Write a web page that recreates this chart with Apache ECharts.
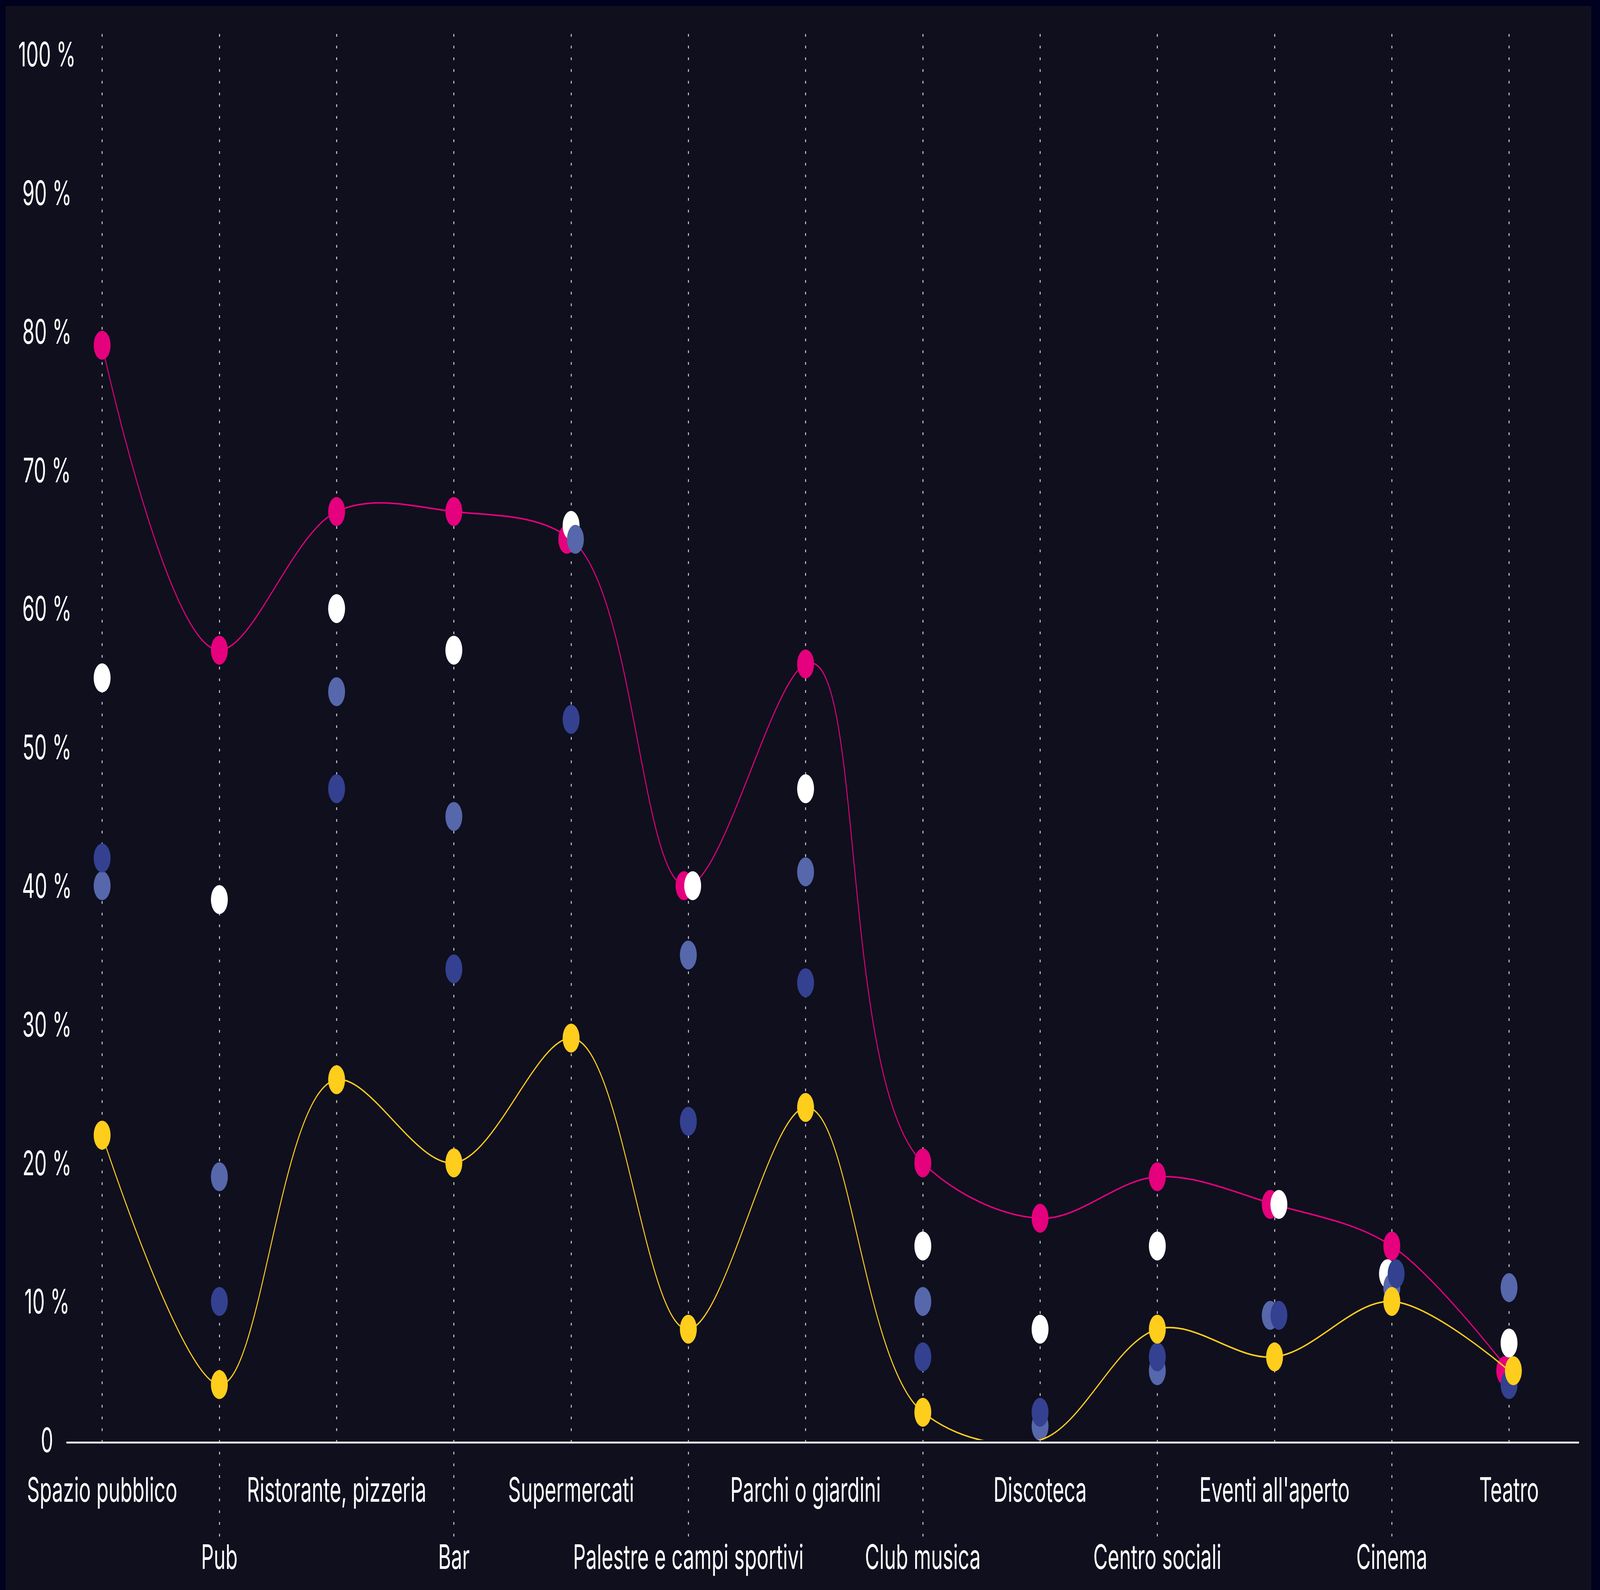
<!DOCTYPE html>
<html>
<head>
<meta charset="utf-8">
<script src="https://cdn.jsdelivr.net/npm/echarts@6/dist/echarts.min.js"></script>
<style>
html,body{margin:0;padding:0;background:#00001f;width:100%;height:100%;overflow:hidden}
#stage{position:absolute;left:0;top:0;width:7019px;height:4071px;transform-origin:0 0}
#panel{position:absolute;left:25px;top:15px;width:6956px;height:4056px;background:#0f0f1e}
#chart{position:absolute;left:0;top:0;width:7019px;height:4071px}
</style>
</head>
<body>
<div id="stage"><div id="panel"></div><div id="chart"></div></div>
<script>
// ---- data ----
const categories = ['Spazio pubblico', 'Pub', 'Ristorante, pizzeria', 'Bar', 'Supermercati',
  'Palestre e campi sportivi', 'Parchi o giardini', 'Club musica', 'Discoteca', 'Centro sociali',
  "Eventi all'aperto", 'Cinema', 'Teatro'];
const yTicks = [0, 10, 20, 30, 40, 50, 60, 70, 80, 90, 100];
const pinkValues      = [79, 57, 67, 67, 65, 40, 56, 20, 16, 19, 17, 14, 5];
const whiteValues     = [55, 39, 60, 57, 66, 40, 47, 14, 8, 14, 17, 12, 7];
const lightBlueValues = [40, 19, 54, 45, 65, 35, 41, 10, 1, 5, 9, 11, 11];
const darkBlueValues  = [42, 10, 47, 34, 52, 23, 33, 6, 2, 6, 9, 12, 4];
const yellowValues    = [22, 4, 26, 20, 29, 8, 24, 2, 0, 8, 6, 10, 5];

// fit the 7019x4071 design into the actual window
const DESIGN_W = 7019, DESIGN_H = 4071;
document.getElementById('stage').style.transform =
  'scale(' + (window.innerWidth / DESIGN_W) + ',' + (window.innerHeight / DESIGN_H) + ')';

// ---- styles ----
const FONT = 'Inter';
const COLORS = ['#e5007d', '#ffffff', '#5667ab', '#334190', '#ffcd1c'];
const DOT = 74;
const STEP = 38;
const ALPHA = 1; // catmull-rom parameterisation
const allSeries = [pinkValues, whiteValues, lightBlueValues, darkBlueValues, yellowValues];

// horizontal nudge for dots sharing exactly the same value in one category
const offsets = allSeries.map(() => categories.map(() => 0));
categories.forEach((c, i) => {
  const groups = {};
  allSeries.forEach((s, k) => { (groups[s[i]] = groups[s[i]] || []).push(k); });
  Object.values(groups).forEach(g => {
    if (g.length > 1) g.forEach((k, j) => { offsets[k][i] = (j - (g.length - 1) / 2) * STEP; });
  });
});
const toData = (arr, k) => arr.map((v, i) => ({ value: v, symbolOffset: [offsets[k][i], 0] }));
const sizeFn = v => (v === 0 ? 0 : DOT);

// catmull-rom curve through the values, positioned by the axis scales
function curveSeries(values, color, z) {
  return {
    type: 'custom', xAxisIndex: 0, yAxisIndex: 0, z: z, clip: true, silent: true,
    data: values.map((v, i) => [i, v]),
    renderItem: function (params, api) {
      const i = params.dataIndex, n = values.length;
      if (i >= n - 1) return null;
      const P = k => (k < 0 || k > n - 1 ? null : api.coord([k, values[k]]));
      const p0 = P(i - 1), p1 = P(i), p2 = P(i + 1), p3 = P(i + 2);
      const d = (a, b) => Math.hypot(a[0] - b[0], a[1] - b[1]);
      const l12 = d(p1, p2), l12a = Math.pow(l12, ALPHA), l12_2a = Math.pow(l12, 2 * ALPHA);
      let c1 = p1.slice(), c2 = p2.slice();
      if (p0) {
        const l01 = d(p0, p1), la = Math.pow(l01, ALPHA), l2a = Math.pow(l01, 2 * ALPHA);
        if (la > 1e-6) {
          const a = 2 * l2a + 3 * la * l12a + l12_2a, nn = 3 * la * (la + l12a);
          c1 = [0, 1].map(t => (p1[t] * a - p0[t] * l12_2a + p2[t] * l2a) / nn);
        }
      }
      if (p3) {
        const l23 = d(p2, p3), la = Math.pow(l23, ALPHA), l2a = Math.pow(l23, 2 * ALPHA);
        if (la > 1e-6) {
          const b = 2 * l2a + 3 * la * l12a + l12_2a, m = 3 * la * (la + l12a);
          c2 = [0, 1].map(t => (p2[t] * b + p1[t] * l2a - p3[t] * l12_2a) / m);
        }
      }
      return {
        type: 'bezierCurve',
        shape: {
          x1: p1[0], y1: p1[1], x2: p2[0], y2: p2[1],
          cpx1: c1[0], cpy1: c1[1], cpx2: c2[0], cpy2: c2[1]
        },
        style: { stroke: color, lineWidth: 4, fill: null }
      };
    }
  };
}
function dotSeries(values, k, z) {
  return {
    type: 'scatter', xAxisIndex: 0, yAxisIndex: 0, z: z,
    symbol: 'circle', symbolSize: sizeFn, itemStyle: { color: COLORS[k], opacity: 1 },
    emphasis: { disabled: true }, data: toData(values, k)
  };
}

const chart = echarts.init(document.getElementById('chart'), null,
  { renderer: 'svg', width: DESIGN_W, height: DESIGN_H });
const guideStyle = { color: '#d9d9d9', width: 4, type: [7, 23] };
const hiddenY = (gi) => ({ type: 'value', gridIndex: gi, min: 0, max: 1, show: false });

chart.setOption({
  backgroundColor: 'transparent',
  animation: false,
  grid: [
    { left: 448, right: 399, top: 139, bottom: 378 },
    { left: 293, right: 94, top: 139, bottom: 378 },
    { left: 448, right: 399, top: 87, bottom: 378 },
    { left: 448, right: 399, top: 87, bottom: 134 }
  ],
  xAxis: [
    {
      type: 'category', gridIndex: 0, data: categories, boundaryGap: false,
      axisLine: { show: false }, axisTick: { show: false }, splitLine: { show: false },
      axisLabel: {
        interval: 0, margin: 40, color: '#ffffff', fontFamily: FONT, fontSize: 87, lineHeight: 172,
        formatter: (v, i) => (i % 2 ? '\n' + v : v)
      }
    },
    {
      type: 'value', gridIndex: 1, min: 0, max: 1,
      axisLine: { show: true, lineStyle: { color: '#e6e6e6', width: 5 } },
      axisTick: { show: false }, axisLabel: { show: false }, splitLine: { show: false }
    },
    {
      type: 'category', gridIndex: 2, data: categories, boundaryGap: false,
      axisLine: { show: false }, axisTick: { show: false }, axisLabel: { show: false },
      splitLine: { show: true, interval: (i) => i % 2 === 0, lineStyle: guideStyle }
    },
    {
      type: 'category', gridIndex: 3, data: categories, boundaryGap: false,
      axisLine: { show: false }, axisTick: { show: false }, axisLabel: { show: false },
      splitLine: { show: true, interval: (i) => i % 2 === 1, lineStyle: guideStyle }
    }
  ],
  yAxis: [
    {
      type: 'value', gridIndex: 0, min: yTicks[0], max: yTicks[yTicks.length - 1], interval: 10,
      axisLine: { show: false }, axisTick: { show: false }, splitLine: { show: false },
      axisLabel: {
        margin: 242, align: 'center', color: '#ffffff', fontFamily: FONT, fontSize: 86,
        formatter: v => (v === 0 ? '0' : v + ' %')
      }
    },
    hiddenY(1), hiddenY(2), hiddenY(3)
  ],
  series: [
    curveSeries(pinkValues, COLORS[0], 2),
    dotSeries(pinkValues, 0, 2),
    dotSeries(whiteValues, 1, 3),
    dotSeries(lightBlueValues, 2, 4),
    dotSeries(darkBlueValues, 3, 5),
    curveSeries(yellowValues, COLORS[4], 6),
    dotSeries(yellowValues, 4, 6)
  ]
});
</script>
</body>
</html>
